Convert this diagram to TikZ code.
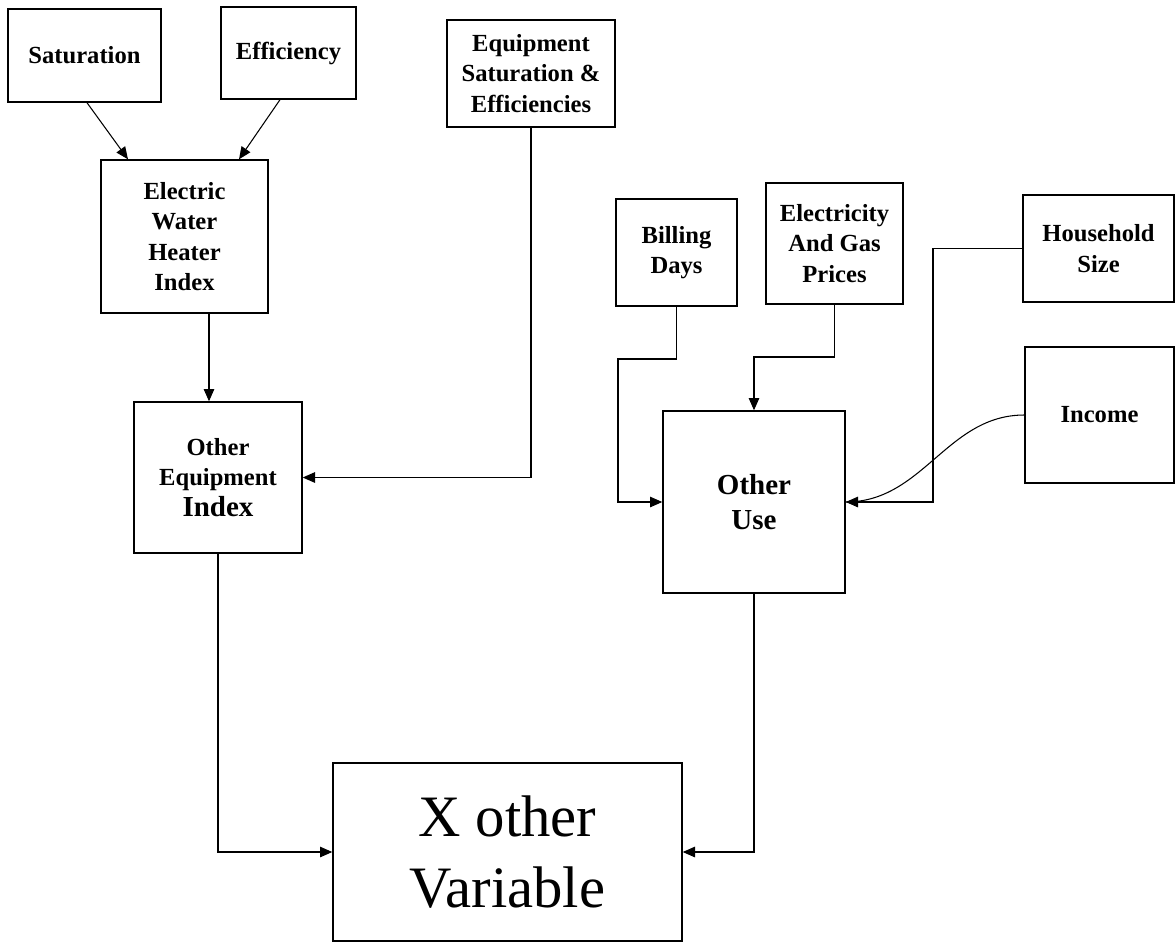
\documentclass[tikz,border=0pt]{standalone}
\usepackage{fontspec}
\setmainfont{Liberation Serif}
\usetikzlibrary{arrows.meta, positioning}

\begin{document}
\begin{tikzpicture}[
  box/.style={rectangle, draw, line width=0.8pt, align=center, inner sep=2pt,
    font=\fontsize{14}{17.4}\selectfont\bfseries},
  arr/.style={line width=0.6pt, -{Triangle[length=7pt,width=6pt]}},
  link/.style={line width=0.6pt}
]
\useasboundingbox (0,0) rectangle (23.5,-18.84);

% Water heater branch
\node[box, minimum width=3.06cm, minimum height=1.86cm] (sat) at (1.69,-1.11) {Saturation};
\node[box, minimum width=2.70cm, minimum height=1.84cm] (eff) at (5.77,-1.06) {Efficiency};
\node[box, minimum width=3.34cm, minimum height=3.06cm] (ewh) at (3.69,-4.73) {Electric\\Water\\Heater\\Index};
\node[box, minimum width=3.36cm, minimum height=2.14cm] (eqsat) at (10.62,-1.47) {Equipment\\Saturation \&\\Efficiencies};
\node[box, minimum width=3.36cm, minimum height=3.02cm] (oeq) at (4.36,-9.55) {Other\\Equipment\\{\fontsize{16.5}{19.8}\selectfont Index}};

% Other use branch
\node[box, minimum width=2.42cm, minimum height=2.14cm] (bill) at (13.53,-5.05) {Billing\\Days};
\node[box, minimum width=2.74cm, minimum height=2.42cm] (elec) at (16.69,-4.87) {Electricity\\And Gas\\Prices};
\node[box, minimum width=3.02cm, minimum height=2.14cm] (hh) at (21.97,-4.97) {Household\\Size};
\node[box, minimum width=2.98cm, minimum height=2.72cm] (inc) at (21.99,-8.30) {Income};
\node[box, minimum width=3.64cm, minimum height=3.64cm, font=\fontsize{16.5}{19.8}\selectfont\bfseries] (ouse) at (15.08,-10.04) {Other\\Use};

% Result
\node[box, minimum width=6.98cm, minimum height=3.56cm, font=\fontsize{33.4}{40.8}\selectfont] (xvar) at (10.15,-17.04) {X other\\Variable};

\coordinate (billbend) at (12.36,-7.18);
\coordinate (elecbend) at (15.08,-7.14);
\coordinate (hhbend) at (18.66,-10.04);

\draw[arr] ([xshift=0.05cm]sat.south) -- ([xshift=-1.13cm]ewh.north);
\draw[arr] ([xshift=-0.17cm]eff.south) -- ([xshift=1.09cm]ewh.north);
\draw[arr] ([xshift=0.49cm]ewh.south) -- ([xshift=0.49cm]ewh.south |- oeq.north);
\draw[arr] (eqsat.south) |- (oeq.east);
\draw[arr] (oeq.south) |- (xvar.west);

\draw[arr] (bill.south) |- (billbend) |- (ouse.west);
\draw[arr] (elec.south) |- (elecbend) -- (ouse.north);
\draw[arr] (hh.west) -| (hhbend) -- (ouse.east);
\draw[link] (inc.west) to[out=180, in=0] (ouse.east);
\draw[arr] (ouse.south) |- (xvar.east);
\end{tikzpicture}
\end{document}
